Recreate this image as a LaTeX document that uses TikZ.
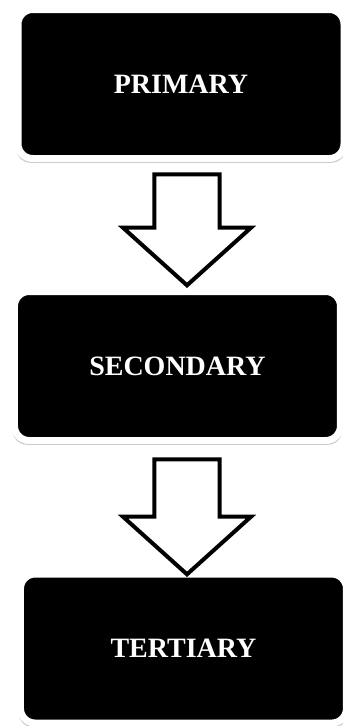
\documentclass[tikz,border=0pt]{standalone}
\usepackage{fontspec}
\setmainfont{Liberation Serif}
\usepackage{tikz}
\usetikzlibrary{shapes,shapes.arrows,shadows,positioning}

\tikzset{
  levelbox/.style={rectangle, rounded corners=11pt, fill=black, draw=white,
      line width=5.25pt, minimum width=244.5pt, minimum height=111.75pt,
      text=white, font=\fontsize{21}{25}\selectfont\bfseries,
      drop shadow={opacity=0.45, shadow xshift=0pt, shadow yshift=-2.5pt,
        shadow scale=1.012}},
  downarrow/.style={single arrow, shape border rotate=270, draw=black,
      fill=white, line width=3pt, inner sep=22.9pt, anchor=tip,
      single arrow head extend=23.6pt, single arrow head indent=0pt,
      single arrow tip angle=96}
}

\begin{document}
\begin{tikzpicture}
  \useasboundingbox (0,0) rectangle (257.25pt,-544.5pt);

  % the three levels
  \node[levelbox] (primary)   at (135.75pt,-63pt)   {PRIMARY};
  \node[levelbox] (secondary) at (133.1pt,-274.5pt) {SECONDARY};
  \node[levelbox] (tertiary)  at (137.6pt,-486.4pt) {TERTIARY};

  % block arrows between them, tips resting on the next box
  \node[downarrow, minimum height=83.25pt] (arr1) at (140.25pt,-216pt) {};
  \node[downarrow, minimum height=86.25pt] (arr2) at (140.25pt,-432.75pt) {};
\end{tikzpicture}
\end{document}
